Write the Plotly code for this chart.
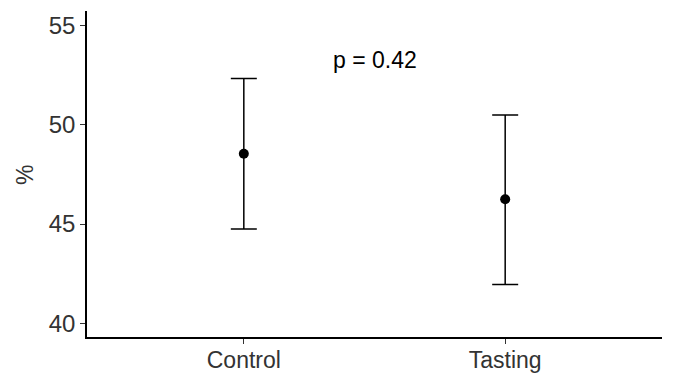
import plotly.graph_objects as go

groups = ["Control", "Tasting"]
means = [48.55, 46.25]
err_up = [3.8, 4.25]
err_down = [3.8, 4.3]
y_ticks = [40, 45, 50, 55]
p_label = "p = 0.42"
y_title = "%"

FONT = "Liberation Sans, Arial"

fig = go.Figure()
fig.add_trace(go.Scatter(
    x=groups, y=means, mode="markers",
    marker=dict(color="black", size=10),
    error_y=dict(type="data", symmetric=False, array=err_up, arrayminus=err_down,
                 color="black", thickness=1.5, width=13),
    showlegend=False,
))
fig.add_annotation(x=0.5, y=53.3, text=p_label, showarrow=False,
                   font=dict(family=FONT, size=23, color="black"))
fig.add_annotation(xref="paper", yref="paper", x=-0.108, y=0.497, text=y_title,
                   textangle=-90, showarrow=False, xanchor="center", yanchor="middle",
                   font=dict(family=FONT, size=23, color="#333333"))

fig.update_layout(
    width=673, height=376,
    margin=dict(l=87, r=11, t=11, b=39),
    paper_bgcolor="white", plot_bgcolor="white",
    font=dict(family=FONT, size=23, color="#333333"),
    xaxis=dict(range=[-0.6, 1.6], showline=True, linecolor="black", linewidth=1.5,
               ticks="outside", ticklen=5, tickcolor="#333333", showgrid=False,
               zeroline=False, automargin=False, ticklabelstandoff=-3,
               tickfont=dict(size=23, color="#333333")),
    yaxis=dict(range=[39.3, 55.75], tickvals=y_ticks, showline=True, linecolor="black",
               linewidth=1.5, ticks="outside", ticklen=5, tickcolor="#333333",
               showgrid=False, zeroline=False, automargin=False,
               tickfont=dict(size=24, color="#333333")),
)
fig.write_html("out.html")
